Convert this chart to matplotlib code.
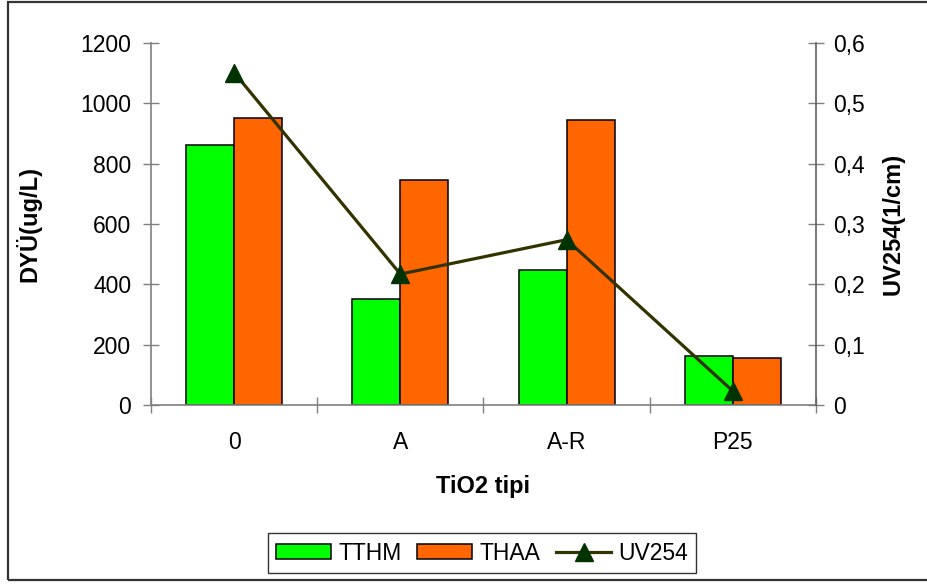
import matplotlib
matplotlib.use('Agg')
import matplotlib.pyplot as plt
from matplotlib.patches import Rectangle
from matplotlib.ticker import FixedLocator, NullFormatter
import numpy as np

# Data
categories = ['0', 'A', 'A-R', 'P25']
tthm = [862, 351, 447, 161]
thaa = [950, 747, 945, 155]
uv254 = [0.551, 0.217, 0.274, 0.023]

left_ticks = [0, 200, 400, 600, 800, 1000, 1200]
right_ticks = [0, 0.1, 0.2, 0.3, 0.4, 0.5, 0.6]
right_tick_labels = ['0', '0,1', '0,2', '0,3', '0,4', '0,5', '0,6']

plt.rcParams['font.family'] = ['Liberation Sans', 'DejaVu Sans']

W, H = 928, 584
fig = plt.figure(figsize=(W / 100, H / 100), dpi=100)
fig.patch.set_facecolor('white')

# Outer chart frame
fig.add_artist(Rectangle((8 / W, 1 - 580 / H), (935 - 8) / W, (580 - 2) / H,
                         transform=fig.transFigure, fill=False,
                         edgecolor='#333333', linewidth=1.6, clip_on=False))

ax = fig.add_axes([151 / W, 1 - 405 / H, (816 - 151) / W, (405 - 43) / H])
x = np.arange(len(categories))
w = 48 / 166.5
axis_grey = '#808080'
tick_fs = 16.5

b1 = ax.bar(x - w / 2, tthm, w, color='#00ff00', edgecolor='black', linewidth=1.1, label='TTHM')
b2 = ax.bar(x + w / 2, thaa, w, color='#ff6600', edgecolor='black', linewidth=1.1, label='THAA')

ax.set_xlim(-0.5, len(categories) - 0.5)
ax.set_ylim(0, 1200)
ax.set_yticks(left_ticks)
ax.set_yticklabels([str(t) for t in left_ticks], fontsize=tick_fs)
ax.tick_params(axis='y', direction='inout', length=11.5, width=1, color=axis_grey, pad=8.5)

# Category boundaries carry the tick marks; labels sit at the centres
ax.xaxis.set_major_locator(FixedLocator(np.arange(-0.5, len(categories), 1.0)))
ax.xaxis.set_major_formatter(NullFormatter())
ax.xaxis.set_minor_locator(FixedLocator(x))
ax.set_xticks(x, minor=True)
ax.set_xticklabels(categories, minor=True, fontsize=tick_fs)
ax.tick_params(axis='x', which='major', direction='inout', length=11.5, width=1, color=axis_grey)
ax.tick_params(axis='x', which='minor', length=0, pad=19)

for s in ['top', 'right']:
    ax.spines[s].set_visible(False)
for s in ['left', 'bottom']:
    ax.spines[s].set_color(axis_grey)
    ax.spines[s].set_linewidth(1.2)

ax2 = ax.twinx()
ln, = ax2.plot(x, uv254, color='#333300', linewidth=2.3, marker='^', markersize=13,
               markerfacecolor='#003300', markeredgecolor='#003300', label='UV254',
               clip_on=False)
ax2.set_ylim(0, 0.6)
ax2.set_yticks(right_ticks)
ax2.set_yticklabels(right_tick_labels, fontsize=tick_fs)
ax2.tick_params(axis='y', direction='inout', length=11.5, width=1, color=axis_grey, pad=6.5)
for s in ['top', 'left', 'bottom']:
    ax2.spines[s].set_visible(False)
ax2.spines['right'].set_color('#606060')
ax2.spines['right'].set_linewidth(1.2)

# Axis titles
fig.text(483 / W, 1 - 487 / H, 'TiO2 tipi', fontsize=17, fontweight='bold',
         ha='center', va='center')
fig.text(28 / W, 1 - 224 / H, 'DYÜ(ug/L)', fontsize=17, fontweight='bold',
         rotation=90, ha='center', va='center')
fig.text(893 / W, 1 - 224 / H, 'UV254(1/cm)', fontsize=17, fontweight='bold',
         rotation=90, ha='center', va='center')

leg = fig.legend([b1, b2, ln], ['TTHM', 'THAA', 'UV254'], loc='center',
                 bbox_to_anchor=(482 / W, 1 - 553 / H), ncol=3, fontsize=tick_fs,
                 frameon=True, fancybox=False, edgecolor='black', handlelength=2.4,
                 handleheight=0.6, handletextpad=0.3, columnspacing=0.7,
                 borderpad=0.35, borderaxespad=0)
leg.get_frame().set_linewidth(1.0)

fig.savefig('out.png', dpi=100)
